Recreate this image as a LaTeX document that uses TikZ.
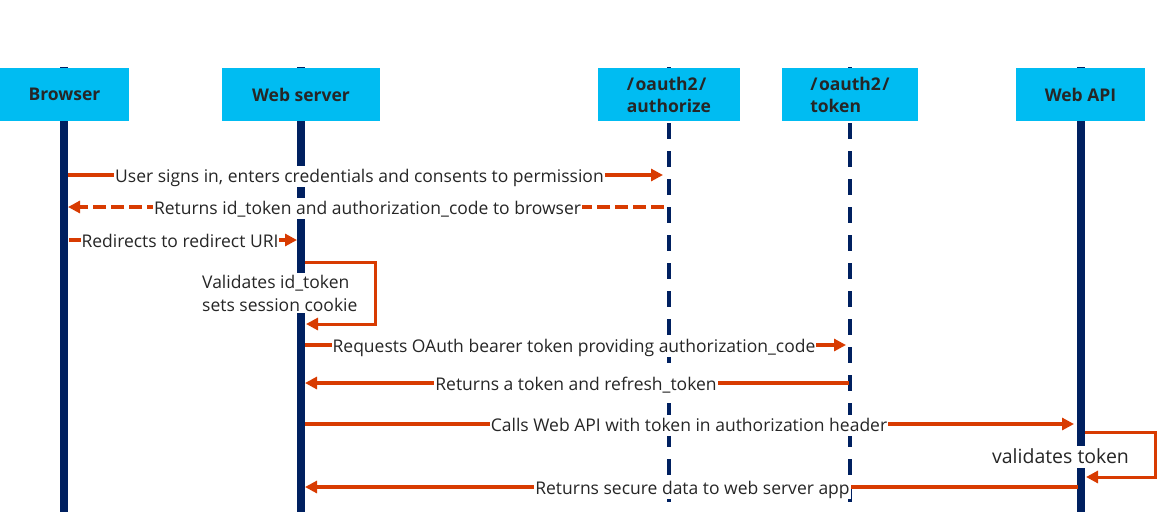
\documentclass[tikz,border=0pt]{standalone}
\usepackage{fontspec}
\setmainfont{Open Sans}
\usetikzlibrary{arrows.meta}
\definecolor{boxcyan}{HTML}{00BCF2}
\definecolor{navy}{HTML}{002060}
\definecolor{msgorange}{HTML}{D83B01}
\definecolor{txtgray}{HTML}{262626}
\tikzset{
  actor/.style={rectangle, fill=boxcyan, inner sep=0pt, text=txtgray,
    font=\fontsize{17.5}{22}\selectfont\bfseries, align=left},
  life/.style={draw=navy, line width=8pt},
  dlife/.style={draw=navy, line width=4pt, dash pattern=on 16pt off 12pt},
  msg/.style={draw=msgorange, line width=3.5pt, -{Triangle[length=12pt,width=12pt]}},
  dmsg/.style={msg, dash pattern=on 13pt off 5pt},
  loopmsg/.style={msg, line width=3pt, miter limit=10},
  lblbase/.style={fill=white, inner xsep=1pt, inner ysep=0.5pt, text=txtgray,
    font=\fontsize{17.5}{23}\selectfont},
  lbl/.style={lblbase, anchor=base, text height=16pt, text depth=4.5pt},
}
\begin{document}
\begin{tikzpicture}[x=1pt,y=-1pt]
\useasboundingbox (0,0) rectangle (1158,531);
% lifeline ends
\coordinate (bT) at (64,67);   \coordinate (bB) at (64,512);
\coordinate (wT) at (301,67);  \coordinate (wB) at (301,512);
\coordinate (aT) at (669,67);  \coordinate (aB) at (669,502);
\coordinate (tT) at (850,67);  \coordinate (tB) at (850,502);
\coordinate (pT) at (1081,67); \coordinate (pB) at (1081,512);
\draw[life] (bT) -- (bB);
\draw[life] (wT) -- (wB);
\draw[dlife] (aT) -- (aB);
\draw[dlife] (tT) -- (tB);
\draw[life] (pT) -- (pB);
% actor boxes
\node[actor, minimum width=129pt, minimum height=53pt] (browser) at (64.5,94.5) {Browser};
\node[actor, minimum width=158pt, minimum height=53pt] (webserver) at (301,94.5) {Web server};
\node[actor, minimum width=142pt, minimum height=53pt] (authorize) at (669,94.5) {/\kern1.5pt oauth2\kern1.5pt /\\authorize};
\node[actor, minimum width=136pt, minimum height=53pt] (token) at (850,94.5) {/\kern1.5pt oauth2\kern1.5pt /\\token};
\node[actor, minimum width=129pt, minimum height=53pt] (webapi) at (1080.5,94.5) {Web API};
% message end points
\coordinate (m1s) at (68,175);   \coordinate (m1e) at (663,175);
\coordinate (m2s) at (664,207);  \coordinate (m2e) at (68,207);
\coordinate (m3s) at (69,240);   \coordinate (m3e) at (297,240);
\coordinate (l1a) at (305,262);  \coordinate (l1b) at (375,262);
\coordinate (l1c) at (375,324);  \coordinate (l1d) at (306,324);
\coordinate (m5s) at (305,345);  \coordinate (m5e) at (846,345);
\coordinate (m6s) at (849,383);  \coordinate (m6e) at (305,383);
\coordinate (m7s) at (305,424);  \coordinate (m7e) at (1074,424);
\coordinate (l2a) at (1085,432); \coordinate (l2b) at (1155,432);
\coordinate (l2c) at (1155,477); \coordinate (l2d) at (1086,477);
\coordinate (m9s) at (1078,487); \coordinate (m9e) at (305,487);
% messages
\draw[msg] (m1s) -- (m1e);
\draw[dmsg] (m2s) -- (m2e);
\draw[msg] (m3s) -- (m3e);
\draw[loopmsg] (l1a) -- (l1b) -- (l1c) -- (l1d);
\draw[msg] (m5s) -- (m5e);
\draw[msg] (m6s) -- (m6e);
\draw[msg] (m7s) -- (m7e);
\draw[loopmsg] (l2a) -- (l2b) -- (l2c) -- (l2d);
\draw[msg] (m9s) -- (m9e);
% labels (baseline about 7 below the connector)
\node[lbl] (t1) at (359.5,182) {User signs in, enters credentials and consents to permission};
\node[lbl] (t2) at (367.5,214) {Returns id\_token and authorization\_code to browser};
\node[lbl] (t3) at (180,247) {Redirects to redirect URI};
\node[lblbase, align=left, anchor=west, inner ysep=2pt] (t4) at (201,293) {Validates id\_token\\sets session cookie};
\node[lbl] (t5) at (574,352) {Requests OAuth bearer token providing authorization\_code};
\node[lbl] (t6) at (576,390) {Returns a token and refresh\_token};
\node[lbl] (t7) at (689,431) {Calls Web API with token in authorization header};
\node[lbl, font=\fontsize{19.5}{23}\selectfont, text height=17pt, text depth=4pt] (t8) at (1060.5,463) {validates token};
\node[lbl] (t9) at (692.5,494) {Returns secure data to web server app};
\end{tikzpicture}
\end{document}
